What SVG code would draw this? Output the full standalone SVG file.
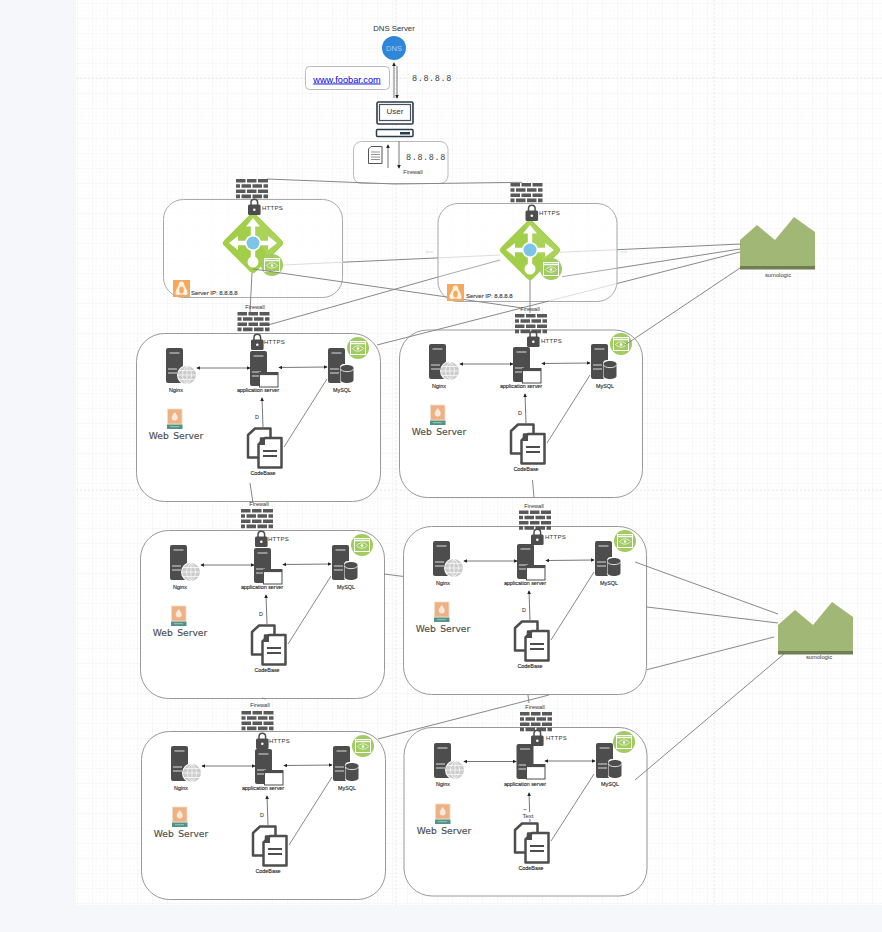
<svg xmlns="http://www.w3.org/2000/svg" width="882" height="932" viewBox="0 0 882 932">
<style>
text{font-family:"Liberation Sans",Arial,sans-serif;fill:#333}
.lb{font-size:5.4px;text-anchor:middle;fill:#222;stroke:#222;stroke-width:.12}
.fw{font-size:5.6px;text-anchor:middle;fill:#333}
.ht{font-size:6px;letter-spacing:.25px;fill:#333}
.ws{font-family:"DejaVu Sans",sans-serif;font-size:9.2px;word-spacing:1.5px;text-anchor:middle;fill:#4d4d4d;stroke:#4d4d4d;stroke-width:.15}
.ip{font-family:"Liberation Mono",monospace;font-size:8.5px;letter-spacing:.6px;fill:#444}
.d{font-size:5.5px;text-anchor:middle;fill:#222}
.box{fill:#fff;stroke:#999;stroke-width:1}
.c{fill:none;stroke:#888;stroke-width:1}
.f{fill:none;stroke:#ddd;stroke-width:1}
.m{fill:none;stroke:#aaa;stroke-width:1}
.a{fill:none;stroke:#777;stroke-width:1;marker-end:url(#ah)}
.b{fill:none;stroke:#777;stroke-width:1;marker-start:url(#ah);marker-end:url(#ah)}
</style>
<defs>
<pattern id="minor" width="3.75" height="3.75" patternUnits="userSpaceOnUse" x="77" y="3"><path d="M3.75 0H0V3.75" fill="none" stroke="#f9f9f9" stroke-width="1"/></pattern>
<pattern id="major" width="15" height="15" patternUnits="userSpaceOnUse" x="77" y="3"><path d="M15 0H0V15" fill="none" stroke="#f1f1f1" stroke-width="1"/></pattern>
<marker id="ah" viewBox="0 0 6 6" refX="5" refY="3" markerWidth="4" markerHeight="4" orient="auto-start-reverse" markerUnits="userSpaceOnUse"><path d="M0 0L6 3L0 6z" fill="#222"/></marker>
<g id="firewall"><path fill="#595959" d="M0 0h9.5v3.6H0zM11 0h9.5v3.6H11zM22 0h10v3.6H22zM0 5.2h4v3.6H0zM5.5 5.2h9.5v3.6H5.5zM16.5 5.2h9.5v3.6h-9.5zM27.5 5.2h4.5v3.6h-4.5zM0 10.4h9.5v3.6H0zM11 10.4h9.5v3.6H11zM22 10.4h10v3.6H22zM0 15.6h4v3.6H0zM5.5 15.6h9.5v3.6H5.5zM16.5 15.6h9.5v3.6h-9.5zM27.5 15.6h4.5v3.6h-4.5z"/></g>
<g id="lock"><path d="M3 7V4.5a3.3 3.3 0 0 1 6.6 0V7" fill="none" stroke="#4d4d4d" stroke-width="1.5"/><rect x="0" y="6.5" width="12.6" height="10.5" rx="1.5" fill="#4d4d4d"/><circle cx="6.3" cy="11.7" r="1.3" fill="#fff"/></g>
<g id="server"><rect width="17" height="35" rx="2" fill="#4d4d4d"/><path d="M3.5 5h10M2 21h9M2 25h9" stroke="#ddd" stroke-width="1.2"/></g>
<g id="globe"><circle cx="10" cy="10" r="10" fill="#fff"/><circle cx="10" cy="10" r="9" fill="#ccc"/><path d="M1 10h18M2.5 5.5h15M2.5 14.5h15M10 1v18M10 1c-6 5-6 13 0 18M10 1c6 5 6 13 0 18" fill="none" stroke="#fff" stroke-width=".7"/></g>
<g id="win"><rect x=".5" y=".5" width="18.5" height="14.5" fill="#fff" stroke="#4d4d4d" stroke-width="1"/><rect x=".5" y=".5" width="18.5" height="2.6" fill="#4d4d4d"/></g>
<g id="db"><rect x="0" y="-1" width="15" height="20" rx="4" fill="#fff"/><path d="M.5 3c0-4 13-4 13 0v12c0 4-13 4-13 0z" fill="#4d4d4d"/><path d="M.5 4c1 3.5 12 3.5 13 0" fill="none" stroke="#fff" stroke-width=".8"/></g>
<g id="eye"><circle r="11" fill="#a0cc62"/><rect x="-7.5" y="-6.5" width="15" height="13" fill="none" stroke="#fff" stroke-width="1"/><path d="M-7.5 -4.5h15" stroke="#fff" stroke-width="1.5"/><path d="M-5.5 .5c3-3.500 8-3.500 11 0c-3 3.500-8 3.500-11 0z" fill="none" stroke="#fff" stroke-width=".7"/><circle cy=".5" r="1.3" fill="#fff"/></g>
<g id="docs"><path d="M9 1.500h15.500v10H15v19H2V8z" fill="#fff" stroke="#4d4d4d" stroke-width="2.5" stroke-linejoin="round"/><path d="M19 11h16.500v29.500H12.500V17.500z" fill="#fff" stroke="#4d4d4d" stroke-width="2.500" stroke-linejoin="round"/><path d="M12 18h7v-7z" fill="#4d4d4d"/><path d="M17 24h14M17 29h14" stroke="#4d4d4d" stroke-width="2"/></g>
<g id="webicon"><rect x=".5" y="0" width="14.5" height="15" fill="#eeb184" stroke="#f6dcc6" stroke-width=".8"/><path d="M7.700 3c2 2.500 3 4 3 5.500a3 3 0 0 1-6 0c0-1.500 1-3 3-5.500z" fill="#fff" fill-opacity=".7"/><rect x="0" y="15.500" width="15.500" height="4.500" fill="#4f9485"/><path d="M3 17.700h9" stroke="#cfe5df" stroke-width=".6"/></g>
<g id="linux"><rect width="17" height="17" fill="#f4a95c"/><path d="M8.500 1.500c-2 0-2.800 1.500-2.800 3.500c-1 2.500-3.700 6-3.200 9c1 1.500 3 1.500 3.500.5h5c.5 1 2.500 1 3.500-.5c.5-3-2.200-6.500-3.200-9c0-2-.8-3.500-2.800-3.500z" fill="#fff" fill-opacity=".85"/><ellipse cx="8.500" cy="10" rx="2.300" ry="3.500" fill="#f4a95c"/></g>
<g id="diamond"><rect x="-22.400" y="-22.400" width="44.800" height="44.800" rx="4" transform="rotate(45)" fill="#a3ce4a"/><path d="M0 -30L30 0L15 15L-5 -25z" fill="#b4d76a" fill-opacity=".5"/><path d="M0 -25L7 -16.500H2.200V-2.200H15V-7L24 0L15 7V2.200H2.200V14H-2.200V2.200H-15V7L-24 0L-15 -7V-2.200H-2.200V-16.500H-7z" fill="#fff"/><circle r="8" fill="#fff"/><circle r="6.500" fill="#7cc5e6"/><circle cy="19" r="5.500" fill="#fff"/></g>
<g id="sumo"><path d="M0 23L17 8L35 23L54 0L75 15V52H0z" fill="#a0b776"/><rect y="49" width="75" height="3.500" fill="#6f7f52"/></g>
</defs>
<rect id="page" width="882" height="932" fill="#f5f7fa"/>
<rect x="76" y="0" width="806" height="905" fill="#fff"/>
<rect x="76" y="0" width="806" height="905" fill="url(#minor)"/>
<rect x="76" y="0" width="806" height="905" fill="url(#major)"/>
<path d="M396 0V905M714 0V905M76 78H882M76 490H882" stroke="#e8e8e8" stroke-width="1" stroke-dasharray="2 2" fill="none"/>

<g id="dns-server"><text x="394" y="31" font-size="7.8" text-anchor="middle" fill="#444">DNS Server</text><circle cx="394" cy="48" r="12" fill="#2f86d8"/><text x="394" y="51" font-size="7.5" text-anchor="middle" style="fill:#a9cdf0">DNS</text></g>
<g id="foobar"><rect x="305.500" y="66.500" width="84" height="23" rx="4" fill="#fff" stroke="#bbb"/><text x="347" y="82.500" font-size="9.2" text-anchor="middle" text-decoration="underline" style="fill:#0000e0">www.foobar.com</text></g>
<text id="dns-ip" class="ip" x="412" y="81">8.8.8.8</text>
<g id="user"><rect x="377" y="102" width="36" height="22" rx="1.500" fill="#fff" stroke="#2b3a4a" stroke-width="1.600"/><rect x="379.500" y="104.500" width="31" height="16" fill="#fff" stroke="#46535f" stroke-width="1.200"/><text x="395" y="114" font-size="8" text-anchor="middle" fill="#555">User</text><rect x="376.500" y="129.500" width="36.500" height="7" rx="1" fill="#fff" stroke="#2b3a4a" stroke-width="1.500"/><rect x="400" y="132" width="10" height="2.500" fill="#2b3a4a"/></g>
<g id="client-box"><rect x="353.500" y="141.500" width="94.500" height="42" rx="8" fill="#fff" stroke="#bbb"/><path d="M371 146.500h11v17h-13.500v-14.500z" fill="#fff" stroke="#555" stroke-width="1"/><path d="M371 152h9M371 154.500h9M371 157h9M371 159.500h9" stroke="#777" stroke-width=".8"/><text class="ip" x="406" y="160">8.8.8.8</text><text class="fw" x="413" y="174">Firewall</text></g>

<g id="lb1"><rect x="163.500" y="199.500" width="179" height="98" rx="20" fill="#fff" fill-opacity=".7" stroke="#aaa"/><use href="#diamond" x="253" y="243"/><use href="#eye" x="272" y="265"/><use href="#linux" x="173" y="280"/><text x="191" y="295" font-size="6" fill="#333" style="stroke:#333;stroke-width:.1">Server IP: 8.8.8.8</text></g>
<g id="lb2"><rect x="438" y="203.500" width="179" height="98" rx="20" fill="#fff" fill-opacity=".7" stroke="#aaa"/><use href="#diamond" x="530" y="250"/><use href="#eye" x="551" y="269"/><use href="#linux" x="447" y="284"/><text x="466" y="298" font-size="6" fill="#333" style="stroke:#333;stroke-width:.1">Server IP: 8.8.8.8</text></g>
<path d="M425 252l3-2v1.300h5v1.400h-5v1.300zM628 252l-3-2v1.300h-5v1.400h5v1.300z" fill="#d8eefb"/>

<g id="web1"><rect class="box" x="136.500" y="333.500" width="244" height="168" rx="28"/><use href="#server" x="166" y="348"/><use href="#globe" x="177" y="365"/><use href="#server" x="250" y="351"/><use href="#win" x="259" y="372"/><use href="#server" x="328" y="348"/><use href="#db" x="340" y="365"/><use href="#eye" x="358" y="348"/><text class="lb" x="176" y="392">Nginx</text><text class="lb" x="258" y="392">application server</text><text class="lb" x="342" y="392">MySQL</text><use href="#webicon" x="167" y="409"/><text class="ws" x="176" y="439">Web Server</text><text class="d" x="257" y="419">D</text><use href="#docs" x="246" y="427"/><text class="lb" x="263" y="475">CodeBase</text></g>
<g id="web2"><rect class="box" x="399.500" y="330" width="243" height="167.500" rx="28"/><use href="#server" x="429" y="344"/><use href="#globe" x="440" y="361"/><use href="#server" x="513" y="347"/><use href="#win" x="522" y="368"/><use href="#server" x="591" y="344"/><use href="#db" x="603" y="361"/><use href="#eye" x="621" y="344"/><text class="lb" x="439" y="388">Nginx</text><text class="lb" x="521" y="388">application server</text><text class="lb" x="605" y="388">MySQL</text><use href="#webicon" x="430" y="405"/><text class="ws" x="439" y="435">Web Server</text><text class="d" x="520" y="415">D</text><use href="#docs" x="509" y="423"/><text class="lb" x="526" y="471">CodeBase</text></g>
<g id="web3"><rect class="box" x="140.500" y="530.500" width="244" height="168" rx="28"/><use href="#server" x="170" y="545"/><use href="#globe" x="181" y="562"/><use href="#server" x="254" y="548"/><use href="#win" x="263" y="569"/><use href="#server" x="332" y="545"/><use href="#db" x="344" y="562"/><use href="#eye" x="362" y="545"/><text class="lb" x="180" y="589">Nginx</text><text class="lb" x="262" y="589">application server</text><text class="lb" x="346" y="589">MySQL</text><use href="#webicon" x="171" y="606"/><text class="ws" x="180" y="636">Web Server</text><text class="d" x="261" y="616">D</text><use href="#docs" x="250" y="624"/><text class="lb" x="267" y="672">CodeBase</text></g>
<g id="web4"><rect class="box" x="403.500" y="526.500" width="243" height="168" rx="28"/><use href="#server" x="433" y="541"/><use href="#globe" x="444" y="558"/><use href="#server" x="517" y="544"/><use href="#win" x="526" y="565"/><use href="#server" x="595" y="541"/><use href="#db" x="607" y="558"/><use href="#eye" x="625" y="541"/><text class="lb" x="443" y="585">Nginx</text><text class="lb" x="525" y="585">application server</text><text class="lb" x="609" y="585">MySQL</text><use href="#webicon" x="434" y="602"/><text class="ws" x="443" y="632">Web Server</text><text class="d" x="524" y="612">D</text><use href="#docs" x="513" y="620"/><text class="lb" x="530" y="668">CodeBase</text></g>
<g id="web5"><rect class="box" x="141.500" y="731.500" width="244" height="168" rx="28"/><use href="#server" x="171" y="746"/><use href="#globe" x="182" y="763"/><use href="#server" x="255" y="749"/><use href="#win" x="264" y="770"/><use href="#server" x="333" y="746"/><use href="#db" x="345" y="763"/><use href="#eye" x="363" y="746"/><text class="lb" x="181" y="790">Nginx</text><text class="lb" x="263" y="790">application server</text><text class="lb" x="347" y="790">MySQL</text><use href="#webicon" x="172" y="807"/><text class="ws" x="181" y="837">Web Server</text><text class="d" x="262" y="817">D</text><use href="#docs" x="251" y="825"/><text class="lb" x="268" y="873">CodeBase</text></g>
<g id="web6"><rect class="box" x="404" y="727.500" width="243" height="168.500" rx="28"/><use href="#server" x="434" y="743"/><use href="#globe" x="445" y="760"/><use href="#server" x="516.500" y="744"/><use href="#win" x="526" y="764"/><use href="#server" x="596" y="743"/><use href="#db" x="608" y="760"/><use href="#eye" x="624" y="742"/><text class="lb" x="443" y="786">Nginx</text><text class="lb" x="525" y="786">application server</text><text class="lb" x="610" y="786">MySQL</text><use href="#webicon" x="435" y="804"/><text class="ws" x="444" y="834">Web Server</text><use href="#docs" x="513" y="822"/><text class="lb" x="531" y="870">CodeBase</text></g>

<g id="sumologic1"><use href="#sumo" x="740" y="217"/><text x="778" y="277" font-size="5.8" text-anchor="middle" fill="#333">sumologic</text></g>
<g id="sumologic2"><use href="#sumo" x="778" y="602"/><text x="819" y="659" font-size="5.8" text-anchor="middle" fill="#333">sumologic</text></g>

<g id="connectors">
<path class="c" d="M267 179L395 184L522 182.300"/>
<path class="a" d="M394 98V63"/>
<path class="a" d="M397 66V98"/>
<path class="a" d="M388 168V145"/>
<path class="a" d="M399 141V168"/>
<path class="c" d="M252 273L250 312M530 280V313"/>
<path class="f" d="M283 265L343 262.200"/><path class="c" d="M343 262.200L438 257.900"/><path class="f" d="M438 257.900L500 255M560 252.300L617 249.700"/><path class="c" d="M617 249.700L741 244"/>
<path class="m" d="M562 276.700L617 268.200"/><path class="c" d="M617 268.200L740 249"/>
<path class="c" d="M268 325L438 277"/><path class="m" d="M438 277L500 260"/>
<path class="c" d="M253 269L447 297M464 299.500L520 307.600"/>
<path class="c" d="M377 345L549 301"/><path class="f" d="M549 301L617 283.500"/><path class="c" d="M617 283.500L740 252"/>
<path class="c" d="M625 345L740 268"/>
<path class="c" d="M384 574L403 576.400M647 607L778 623"/>
<path class="c" d="M635 562L778 614"/>
<path class="c" d="M378 739L549 695M647 669.700L774 637"/>
<path class="c" d="M635 780L784 654"/>
<path class="c" d="M250 483L253 503M532.500 480L534 498M262 698L266 699M528 695L529 703"/>
<path class="b" d="M197 368H250"/><path class="b" d="M279 367.500L327 367"/><path class="a" d="M263 427L262 398"/><path class="c" d="M284 447L327 379"/>
<path class="b" d="M460 364H513"/><path class="b" d="M542 363.500L590 363"/><path class="a" d="M526 423L525 394"/><path class="c" d="M547 443L590 375"/>
<path class="b" d="M201 565H254"/><path class="b" d="M283 564.500L331 564"/><path class="a" d="M267 624L266 595"/><path class="c" d="M288 644L331 576"/>
<path class="b" d="M464 561H517"/><path class="b" d="M546 560.500L594 560"/><path class="a" d="M530 620L529 591"/><path class="c" d="M551 640L594 572"/>
<path class="b" d="M202 766H255"/><path class="b" d="M284 765.500L332 765"/><path class="a" d="M268 825L267 796"/><path class="c" d="M289 845L332 777"/>
<path class="b" d="M464 761.500H516"/><path class="b" d="M545 761L595 761"/><path class="a" d="M530 822L529 793"/><path class="c" d="M551 841L594 774"/>
</g>

<g id="box6-labels"><text x="525" y="811" font-size="6" text-anchor="middle" fill="#222">~</text><rect x="521" y="812" width="14" height="7" fill="#fff"/><text x="528" y="817.500" font-size="6" text-anchor="middle" fill="#333">Text</text></g>

<g id="fw-lb1"><use href="#firewall" x="236" y="179"/><use href="#lock" x="248" y="198"/><text class="ht" x="262" y="210">HTTPS</text></g>
<g id="fw-lb2"><use href="#firewall" x="510.500" y="183"/><use href="#lock" x="525.500" y="204"/><text class="ht" x="539" y="215">HTTPS</text></g>
<g id="fw-web1"><text class="fw" x="255" y="309">Firewall</text><use href="#firewall" x="237.500" y="312"/><use href="#lock" x="251" y="333"/><text class="ht" x="264" y="344">HTTPS</text></g>
<g id="fw-web2"><text class="fw" x="530" y="311">Firewall</text><use href="#firewall" x="515" y="314"/><use href="#lock" x="527" y="330"/><text class="ht" x="541" y="343">HTTPS</text></g>
<g id="fw-web3"><text class="fw" x="259" y="506">Firewall</text><use href="#firewall" x="241" y="509"/><use href="#lock" x="255" y="530"/><text class="ht" x="268" y="541">HTTPS</text></g>
<g id="fw-web4"><text class="fw" x="534" y="508">Firewall</text><use href="#firewall" x="519" y="510.500"/><use href="#lock" x="531" y="528"/><text class="ht" x="545" y="539">HTTPS</text></g>
<g id="fw-web5"><text class="fw" x="260" y="707">Firewall</text><use href="#firewall" x="241.500" y="711"/><use href="#lock" x="256" y="732"/><text class="ht" x="269" y="743">HTTPS</text></g>
<g id="fw-web6"><text class="fw" x="535" y="709">Firewall</text><use href="#firewall" x="520" y="712"/><use href="#lock" x="531" y="729"/><text class="ht" x="546" y="740">HTTPS</text></g>
</svg>
